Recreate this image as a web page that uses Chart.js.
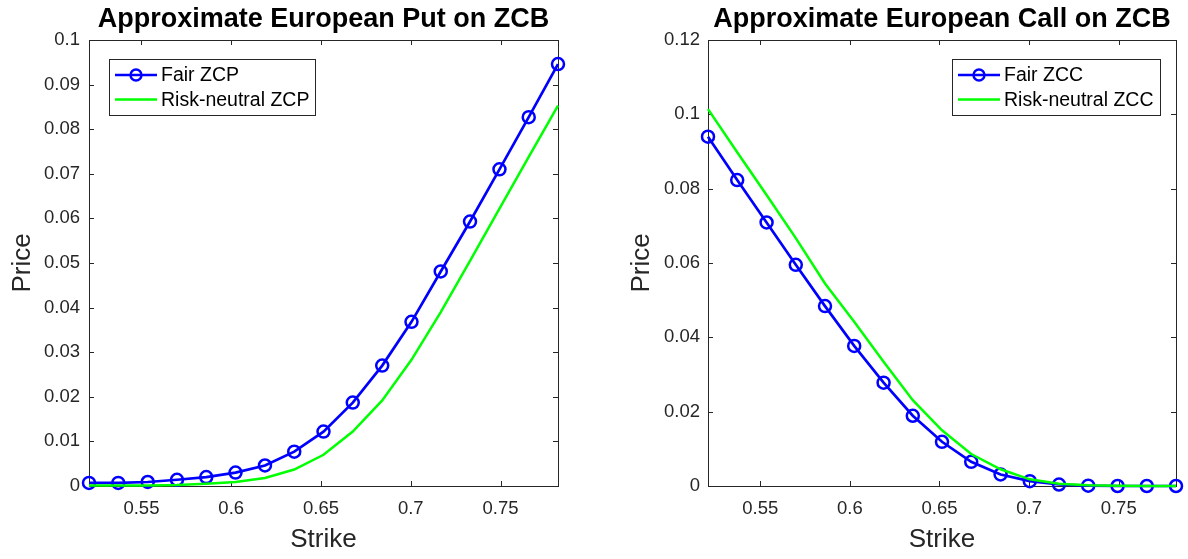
<!DOCTYPE html>
<html>
<head>
<meta charset="utf-8">
<script src="https://cdn.jsdelivr.net/npm/chart.js@4/dist/chart.umd.min.js"></script>
<style>
html,body{margin:0;padding:0;background:#fff;}
#wrap{position:relative;width:1188px;height:559px;overflow:hidden;background:#fff;}
.c{position:absolute;top:0;width:594px;height:559px;}
canvas{display:block;}
</style>
</head>
<body>
<div id="wrap">
  <div class="c" style="left:0"><canvas id="put" width="594" height="559"></canvas></div>
  <div class="c" style="left:594px"><canvas id="call" width="594" height="559"></canvas></div>
</div>
<script>
// ---------- data ----------
const strikes = [0.5208, 0.5371, 0.5535, 0.5698, 0.5861, 0.6024, 0.6188, 0.6351, 0.6514,
                 0.6677, 0.6841, 0.7004, 0.7167, 0.7330, 0.7494, 0.7657, 0.7820];
const fairZCP = [0.0007, 0.0007, 0.0009, 0.0014, 0.0020, 0.0030, 0.0046, 0.0077, 0.0122,
                 0.0187, 0.0270, 0.0368, 0.0481, 0.0593, 0.0710, 0.0827, 0.0946];
const riskNeutralZCP = [0.0001, 0.0001, 0.0001, 0.0002, 0.0005, 0.0009, 0.0018, 0.0037, 0.0070,
                 0.0122, 0.0192, 0.0283, 0.0390, 0.0505, 0.0622, 0.0738, 0.0853];
const fairZCC = [0.0940, 0.0823, 0.0709, 0.0595, 0.0484, 0.0377, 0.0278, 0.0189, 0.0119,
                 0.0065, 0.0031, 0.0013, 0.0004, 0.0001, 0.0000, 0.0000, 0.0000];
const riskNeutralZCC = [0.1014, 0.0898, 0.0783, 0.0667, 0.0545, 0.0442, 0.0334, 0.0231, 0.0150,
                 0.0086, 0.0045, 0.0018, 0.0006, 0.0002, 0.0001, 0.0000, 0.0000];
const xTicks = [0.55, 0.6, 0.65, 0.7, 0.75];
const xTickLabels = ['0.55', '0.6', '0.65', '0.7', '0.75'];
const putYTicks = [0, 0.01, 0.02, 0.03, 0.04, 0.05, 0.06, 0.07, 0.08, 0.09, 0.1];
const putYTickLabels = ['0', '0.01', '0.02', '0.03', '0.04', '0.05', '0.06', '0.07', '0.08', '0.09', '0.1'];
const callYTicks = [0, 0.02, 0.04, 0.06, 0.08, 0.1, 0.12];
const callYTickLabels = ['0', '0.02', '0.04', '0.06', '0.08', '0.1', '0.12'];

// ---------- style ----------
const FONT = '"Liberation Sans", Arial, Helvetica, sans-serif';
const AXIS_COLOR = '#262626';
const BLUE = '#0000ff';
const GREEN = '#00ff00';
Chart.defaults.font.family = FONT;

const boxPlugin = {
  id: 'matlabBox',
  beforeDatasetsDraw(chart) {
    const {ctx, chartArea: a, scales} = chart;
    const tl = 5;
    ctx.save();
    ctx.strokeStyle = AXIS_COLOR;
    ctx.lineWidth = 1;
    ctx.beginPath();
    scales.x.ticks.forEach(t => {
      const px = Math.round(scales.x.getPixelForValue(t.value)) + 0.5;
      ctx.moveTo(px, a.bottom); ctx.lineTo(px, a.bottom - tl);
      ctx.moveTo(px, a.top); ctx.lineTo(px, a.top + tl);
    });
    scales.y.ticks.forEach(t => {
      const py = Math.round(scales.y.getPixelForValue(t.value)) + 0.5;
      ctx.moveTo(a.left, py); ctx.lineTo(a.left + tl, py);
      ctx.moveTo(a.right, py); ctx.lineTo(a.right - tl, py);
    });
    ctx.stroke();
    ctx.strokeRect(Math.round(a.left) + 0.5, Math.round(a.top) + 0.5,
                   Math.round(a.right - a.left), Math.round(a.bottom - a.top));
    ctx.restore();
  }
};

const legendPlugin = {
  id: 'matlabLegend',
  afterDraw(chart, args, opts) {
    const {ctx, chartArea: a} = chart;
    const items = opts.items || [];
    ctx.save();
    ctx.font = opts.fontSize + 'px ' + FONT;
    let maxW = 0;
    items.forEach(it => { maxW = Math.max(maxW, ctx.measureText(it.text).width); });
    const textOff = 52;
    const w = Math.round(textOff + maxW + 6);
    const h = 56;
    const x = opts.side === 'left' ? Math.round(a.left + opts.dx) : Math.round(a.right - opts.dx - w);
    const y = Math.round(a.top + opts.dy);
    ctx.fillStyle = '#fff';
    ctx.fillRect(x, y, w, h);
    ctx.strokeStyle = AXIS_COLOR;
    ctx.lineWidth = 1;
    ctx.strokeRect(x + 0.5, y + 0.5, w, h);
    items.forEach((it, i) => {
      const ry = y + 16 + i * 24.5;
      ctx.strokeStyle = it.color;
      ctx.lineWidth = it.width;
      ctx.beginPath();
      ctx.moveTo(x + 6, ry); ctx.lineTo(x + 48, ry);
      ctx.stroke();
      if (it.marker) {
        ctx.lineWidth = 2.4;
        ctx.beginPath();
        ctx.arc(x + 27, ry, 5.5, 0, Math.PI * 2);
        ctx.stroke();
      }
      ctx.fillStyle = '#000';
      ctx.textBaseline = 'middle';
      ctx.textAlign = 'left';
      ctx.fillText(it.text, x + textOff, ry + 1);
    });
    ctx.restore();
  }
};

function pts(ys) { return strikes.map((s, i) => ({x: s, y: ys[i]})); }

function makeChart(id, cfg) {
  return new Chart(document.getElementById(id), {
    type: 'line',
    data: {
      datasets: [
        { label: cfg.rnLabel, data: pts(cfg.rn), borderColor: GREEN, borderWidth: 2.5,
          pointRadius: 0, pointHoverRadius: 0, tension: 0, clip: false, order: 0 },
        { label: cfg.fairLabel, data: pts(cfg.fair), borderColor: BLUE, borderWidth: 2.7,
          pointRadius: 6, pointHoverRadius: 6, pointStyle: 'circle', pointBorderWidth: 2.5,
          pointBorderColor: BLUE, pointBackgroundColor: 'rgba(0,0,0,0)', tension: 0, clip: false, order: 1 }
      ]
    },
    options: {
      responsive: false,
      animation: false,
      events: [],
      layout: { padding: { left: 0, right: cfg.padRight, top: 0, bottom: 0 } },
      plugins: {
        legend: { display: false },
        tooltip: { enabled: false },
        title: {
          display: true, text: cfg.title, color: '#000', fullSize: false,
          font: { size: 27, weight: 'bold', family: FONT },
          padding: { top: 3, bottom: 4.6 }
        },
        matlabLegend: {
          side: cfg.legendSide, dx: cfg.legendDx, dy: 19, fontSize: 19.5,
          items: [
            { text: cfg.fairLabel, color: BLUE, width: 2.7, marker: true },
            { text: cfg.rnLabel, color: GREEN, width: 2.7, marker: false }
          ]
        }
      },
      scales: {
        x: {
          type: 'linear', position: 'bottom',
          min: strikes[0], max: strikes[strikes.length - 1],
          afterBuildTicks: s => { s.ticks = xTicks.map(v => ({ value: v })); },
          afterFit: s => { s.height = 73; },
          ticks: { font: { size: 18.5 }, color: AXIS_COLOR, padding: 12, maxRotation: 0,
                   callback: (v, i) => xTickLabels[i] },
          grid: { display: false, drawTicks: false },
          border: { display: false },
          title: { display: true, text: 'Strike', color: AXIS_COLOR,
                   font: { size: 26 }, padding: { top: 0, bottom: 3.2 } }
        },
        y: {
          type: 'linear', position: 'left',
          min: 0, max: cfg.yMax,
          afterBuildTicks: s => { s.ticks = cfg.yTicks.map(v => ({ value: v })); },
          afterFit: s => { s.width = cfg.yWidth; },
          ticks: { font: { size: 18.5 }, color: AXIS_COLOR, padding: cfg.yTickPad,
                   callback: (v, i) => cfg.yTickLabels[i] },
          grid: { display: false, drawTicks: false },
          border: { display: false },
          title: { display: true, text: 'Price', color: AXIS_COLOR,
                   font: { size: 26 }, padding: { top: cfg.yTitlePad, bottom: 0 } }
        }
      }
    },
    plugins: [boxPlugin, legendPlugin]
  });
}

makeChart('put', {
  title: 'Approximate European Put on ZCB',
  fair: fairZCP, rn: riskNeutralZCP,
  fairLabel: 'Fair ZCP', rnLabel: 'Risk-neutral ZCP',
  yMax: 0.1, yTicks: putYTicks, yTickLabels: putYTickLabels,
  yWidth: 89, yTickPad: 9, yTitlePad: 7, padRight: 36,
  legendSide: 'left', legendDx: 20
});
makeChart('call', {
  title: 'Approximate European Call on ZCB',
  fair: fairZCC, rn: riskNeutralZCC,
  fairLabel: 'Fair ZCC', rnLabel: 'Risk-neutral ZCC',
  yMax: 0.12, yTicks: callYTicks, yTickLabels: callYTickLabels,
  yWidth: 114, yTickPad: 8, yTitlePad: 32, padRight: 12,
  legendSide: 'right', legendDx: 16
});
</script>
</body>
</html>
